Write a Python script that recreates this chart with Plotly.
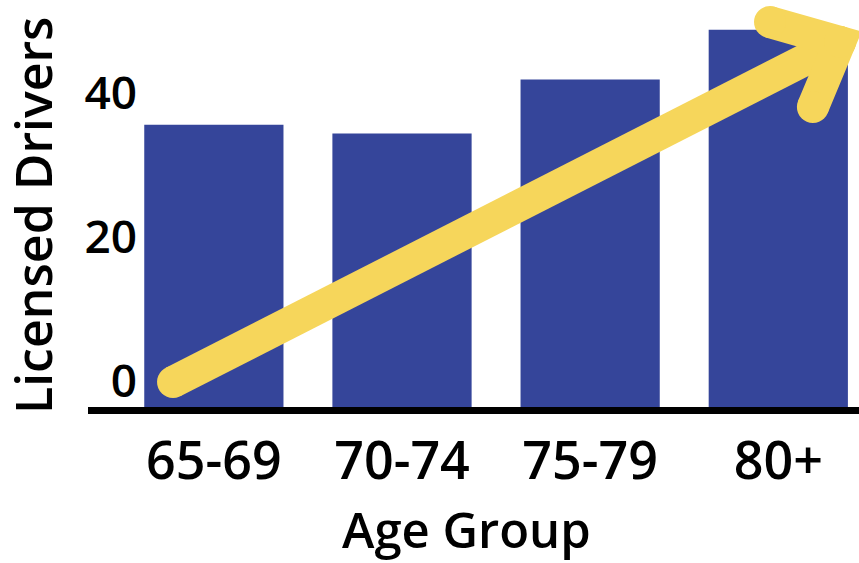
import plotly.graph_objects as go

# ---- data ----
age_groups = ["65-69", "70-74", "75-79", "80+"]
licensed_drivers = [39.2, 38.0, 45.5, 52.4]
y_tick_vals = [0, 20, 40]
y_tick_text = ["0", "20", "40"]

# trend arrow (decoration), in axis units
arrow_shaft_x = [-0.217, 3.328]
arrow_shaft_y = [3.47, 50.69]
arrow_head_x = [2.956, 3.328, 3.184]
arrow_head_y = [53.47, 50.69, 41.67]

BLUE = "#35459A"
YELLOW = "#F6D65B"
FONT = "Open Sans"

X_RANGE = [-0.669, 3.429]
Y_RANGE = [0, 56.53]

fig = go.Figure()
fig.add_trace(go.Bar(x=age_groups, y=licensed_drivers, marker=dict(color=BLUE, line=dict(width=0)),
                     width=0.74, showlegend=False, hoverinfo="x+y"))

# arrow shaft and head
for ax_, ay_ in [(arrow_shaft_x, arrow_shaft_y), (arrow_head_x, arrow_head_y)]:
    fig.add_trace(go.Scatter(x=ax_, y=ay_, mode="lines+markers",
                             line=dict(color=YELLOW, width=32),
                             marker=dict(color=YELLOW, size=32, line=dict(width=0)),
                             xaxis="x2", yaxis="y2", showlegend=False, hoverinfo="skip",
                             cliponaxis=False))

fig.update_layout(
    width=859, height=563,
    margin=dict(l=88, r=0, t=0, b=156),
    paper_bgcolor="white", plot_bgcolor="white",
    font=dict(family=FONT, color="black"),
    xaxis=dict(type="category", range=X_RANGE, showline=True, linewidth=7, linecolor="black",
               showgrid=False, zeroline=False, ticks="",
               tickfont=dict(size=52, family=FONT, weight=600), ticklabelstandoff=3),
    yaxis=dict(range=Y_RANGE, showgrid=False, zeroline=False, showline=False, ticks="",
               tickvals=y_tick_vals, ticktext=y_tick_text,
               tickfont=dict(size=46, family=FONT, weight=600),
               anchor="free", position=(137 - 88) / 771, ticklabelshift=-26, ticklabelstandoff=0),
    xaxis2=dict(range=X_RANGE, overlaying="x", anchor="y2", visible=False),
    yaxis2=dict(range=Y_RANGE, overlaying="y", anchor="x2", visible=False),
    bargap=0.26,
    annotations=[
        dict(text="Age Group", xref="paper", yref="paper", x=(466 - 88) / 771, y=(407 - 529) / 407,
             showarrow=False, xanchor="center", yanchor="middle", borderpad=0,
             font=dict(size=49, family=FONT, weight=600, color="black")),
        dict(text="Licensed Drivers", xref="paper", yref="paper", x=(33 - 88) / 771, y=(407 - 216) / 407,
             showarrow=False, xanchor="center", yanchor="middle", textangle=-90, borderpad=0,
             font=dict(size=50, family=FONT, weight=600, color="black")),
    ],
)

fig.write_html("out.html", config={"displayModeBar": False},
               post_script="document.body.style.margin='0';")
